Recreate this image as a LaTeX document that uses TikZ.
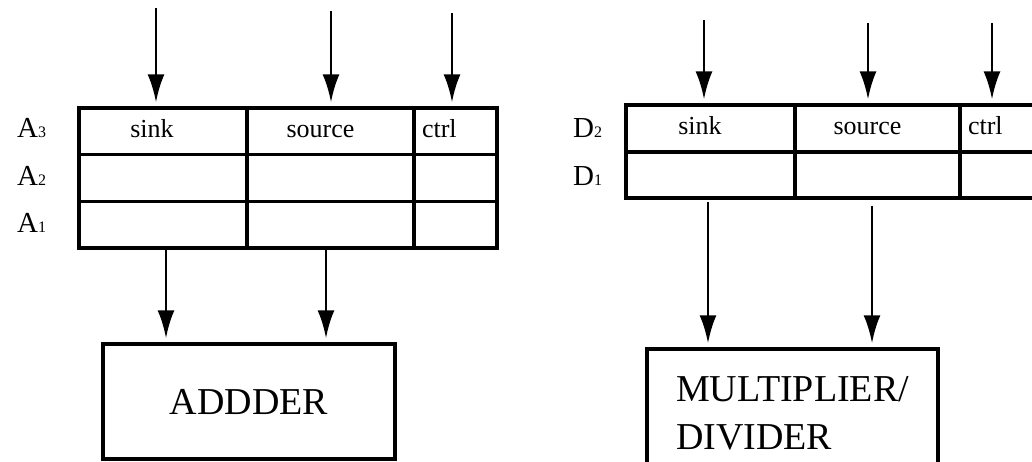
\documentclass[tikz,border=0pt]{standalone}
\usepackage{fontspec}
\setmainfont{Liberation Serif}
\usetikzlibrary{arrows.meta}

\newcommand{\regname}[2]{#1{\fontsize{16}{16}\selectfont #2}}

\begin{document}
\begin{tikzpicture}[x=1pt,y=-1pt,
    cell/.style={draw, line width=3.2pt, inner sep=0pt, text height=17pt, text depth=5pt, font=\fontsize{26}{30}\selectfont},
    ctrlcell/.style={cell, align=left, inner xsep=8pt},
    reglabel/.style={anchor=base west, inner sep=0pt, font=\fontsize{29}{30}\selectfont},
    unit/.style={draw, line width=3.4pt, inner sep=0pt, align=left, font=\fontsize{38}{48}\selectfont},
    flow/.style={line width=2.8pt, -{Latex[length=28pt,width=17pt]}, shorten >=4pt}]
        \useasboundingbox (0,0) rectangle (1032,462);

        % adder registers
        \node[cell, minimum width=168pt, minimum height=46.7pt] (a3sink) at (163,131.3) {sink\kern22pt};
        \node[cell, minimum width=167pt, minimum height=46.7pt] (a3src) at (330.5,131.3) {source\kern20pt};
        \node[ctrlcell, text width=67pt, minimum height=46.7pt] (a3ctrl) at (455.5,131.3) {ctrl};
        \node[cell, minimum width=168pt, minimum height=46.7pt] (a2sink) at (163,178) {};
        \node[cell, minimum width=167pt, minimum height=46.7pt] (a2src) at (330.5,178) {};
        \node[cell, minimum width=83pt, minimum height=46.7pt] (a2ctrl) at (455.5,178) {};
        \node[cell, minimum width=168pt, minimum height=46.7pt] (a1sink) at (163,224.7) {};
        \node[cell, minimum width=167pt, minimum height=46.7pt] (a1src) at (330.5,224.7) {};
        \node[cell, minimum width=83pt, minimum height=46.7pt] (a1ctrl) at (455.5,224.7) {};

        \node[reglabel] (la3) at (17,138) {\regname{A}{3}};
        \node[reglabel] (la2) at (17,186) {\regname{A}{2}};
        \node[reglabel] (la1) at (17,233) {\regname{A}{1}};

        % multiplier/divider registers
        \node[cell, minimum width=169pt, minimum height=47pt] (d2sink) at (710.5,128.5) {sink\kern21pt};
        \node[cell, minimum width=165pt, minimum height=47pt] (d2src) at (877.5,128.5) {source\kern20pt};
        \node[ctrlcell, text width=69pt, minimum height=47pt] (d2ctrl) at (1002.5,128.5) {ctrl};
        \node[cell, minimum width=169pt, minimum height=46pt] (d1sink) at (710.5,175) {};
        \node[cell, minimum width=165pt, minimum height=46pt] (d1src) at (877.5,175) {};
        \node[cell, minimum width=85pt, minimum height=46pt] (d1ctrl) at (1002.5,175) {};

        \node[reglabel] (ld2) at (573,138) {\regname{D}{2}};
        \node[reglabel] (ld1) at (573,186) {\regname{D}{1}};

        % units
        \node[unit, minimum width=292pt, minimum height=115pt] (adder) at (249,401.5) {ADDDER};
        \node[unit, minimum width=291pt, minimum height=128pt] (muldiv) at (792.5,413) {MULTIPLIER/\\DIVIDER};

        % inputs
        \coordinate (ain1) at (156,8);
        \coordinate (ain2) at (331,11);
        \coordinate (ain3) at (452,13);
        \coordinate (din1) at (704,20);
        \coordinate (din2) at (868,23);
        \coordinate (din3) at (992,23);

        \draw[flow] (ain1) -- (ain1 |- a3sink.north);
        \draw[flow] (ain2) -- (ain2 |- a3src.north);
        \draw[flow] (ain3) -- (ain3 |- a3ctrl.north);
        \draw[flow] (din1) -- (din1 |- d2sink.north);
        \draw[flow] (din2) -- (din2 |- d2src.north);
        \draw[flow] (din3) -- (din3 |- d2ctrl.north);

        % outputs
        \draw[flow] ([xshift=3pt]a1sink.south) -- ([xshift=3pt]a1sink.south |- adder.north);
        \draw[flow] ([xshift=-4.5pt]a1src.south) -- ([xshift=-4.5pt]a1src.south |- adder.north);
        \draw[flow] ([shift={(-2.5,2)}]d1sink.south) -- ([xshift=-2.5pt]d1sink.south |- muldiv.north);
        \draw[flow] ([shift={(-5.5,6)}]d1src.south) -- ([xshift=-5.5pt]d1src.south |- muldiv.north);

    \end{tikzpicture}
\end{document}
